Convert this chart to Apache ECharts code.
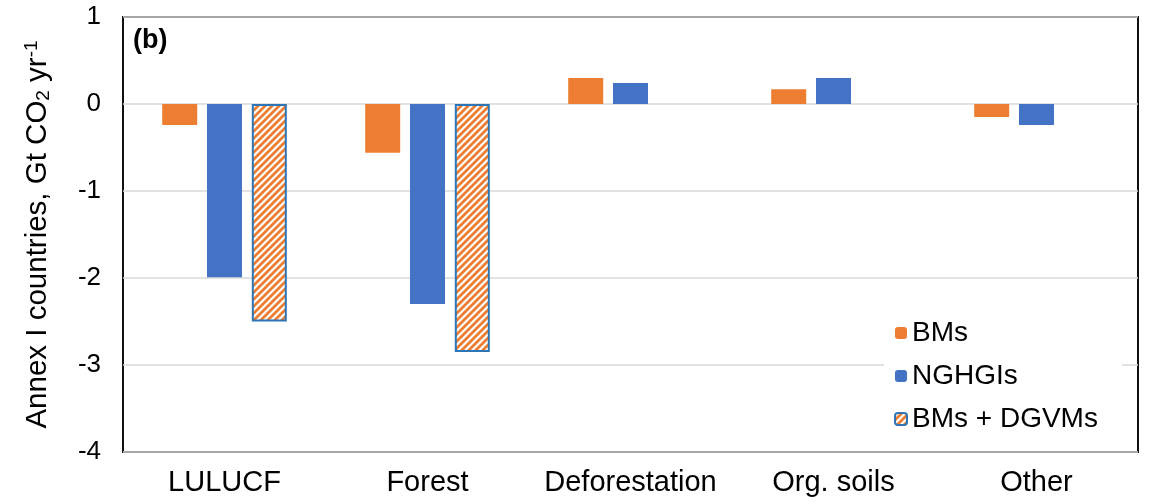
<!DOCTYPE html>
<html>
<head>
<meta charset="utf-8">
<script src="https://cdn.jsdelivr.net/npm/echarts@6/dist/echarts.min.js"></script>
<style>
  html, body { margin: 0; padding: 0; background: #fff; }
  #chart { width: 1153px; height: 504px; }
</style>
</head>
<body>
<div id="chart"></div>
<script>
// Annex I countries: land-use CO2 flux by component (Gt CO2 per year)
const categories = ['LULUCF', 'Forest', 'Deforestation', 'Org. soils', 'Other'];
const bms       = [-0.24, -0.56, 0.30, 0.17, -0.15];
const nghgis    = [-1.99, -2.30, 0.24, 0.30, -0.24];
const bmsDgvms  = [-2.50, -2.85, null, null, null];
const seriesNames = ['BMs', 'NGHGIs', 'BMs + DGVMs'];

const ORANGE = '#ED7D31';
const BLUE = '#4472C4';
const FONT = '"Liberation Sans", Arial, Helvetica, sans-serif';

// Diagonal orange/white hatch used for the combined estimate
function hatchPattern() {
  const s = 7;
  const c = document.createElement('canvas');
  c.width = s; c.height = s;
  const g = c.getContext('2d');
  g.fillStyle = '#fff';
  g.fillRect(0, 0, s, s);
  g.strokeStyle = ORANGE;
  g.lineWidth = 2.8;
  g.lineCap = 'square';
  g.beginPath();
  for (let k = -1; k <= 1; k++) {
    g.moveTo(k * s - 1, s + 1);
    g.lineTo(k * s + s + 1, -1);
  }
  g.stroke();
  return c;
}

const chart = echarts.init(document.getElementById('chart'), null, { renderer: 'canvas' });

chart.setOption({
  animation: false,
  backgroundColor: '#fff',
  grid: {
    left: 123, right: 15, top: 17, bottom: 52,
    show: true, borderColor: '#111', borderWidth: 2, backgroundColor: 'transparent'
  },
  graphic: [{
    type: 'text', left: 133, top: 27, z: 10,
    style: { text: '(b)', font: 'bold 27px ' + FONT, fill: '#000' }
  }],
  legend: {
    orient: 'vertical',
    left: 884, top: 312,
    data: seriesNames,
    itemWidth: 12, itemHeight: 12,
    itemGap: 13,
    padding: [6, 24, 6, 10],
    backgroundColor: '#fff',
    textStyle: { fontFamily: FONT, fontSize: 28, color: '#000', lineHeight: 30 }
  },
  xAxis: {
    type: 'category',
    data: categories,
    axisLine: { show: false },
    axisTick: { show: false },
    axisLabel: { interval: 0, fontFamily: FONT, fontSize: 29, color: '#000', margin: 16 }
  },
  yAxis: {
    type: 'value',
    min: -4, max: 1, interval: 1,
    axisLine: { show: false },
    axisTick: { show: false },
    axisLabel: { fontFamily: FONT, fontSize: 26, color: '#000', margin: 22 },
    splitLine: { lineStyle: { color: '#d9d9d9', width: 1.5 } },
    name: 'Annex I countries, Gt CO{sub|2} yr{sup|-1}',
    nameLocation: 'middle',
    nameRotate: 90,
    nameGap: 70,
    nameTextStyle: {
      fontFamily: FONT, fontSize: 29.5, color: '#000', lineHeight: 31,
      rich: {
        sub: { fontFamily: FONT, fontSize: 19, lineHeight: 17, verticalAlign: 'bottom', color: '#000' },
        sup: { fontFamily: FONT, fontSize: 19, lineHeight: 17, verticalAlign: 'top', color: '#000' }
      }
    }
  },
  series: [
    {
      name: seriesNames[0], type: 'bar', data: bms,
      barWidth: 35, barGap: '28%',
      itemStyle: { color: ORANGE }
    },
    {
      name: seriesNames[1], type: 'bar', data: nghgis,
      barWidth: 35, barGap: '28%',
      itemStyle: { color: BLUE }
    },
    {
      name: seriesNames[2], type: 'bar', data: bmsDgvms,
      barWidth: 35, barGap: '28%',
      itemStyle: {
        color: { image: hatchPattern(), repeat: 'repeat' },
        borderColor: '#2E75B6', borderWidth: 2
      }
    }
  ]
});
</script>
</body>
</html>
